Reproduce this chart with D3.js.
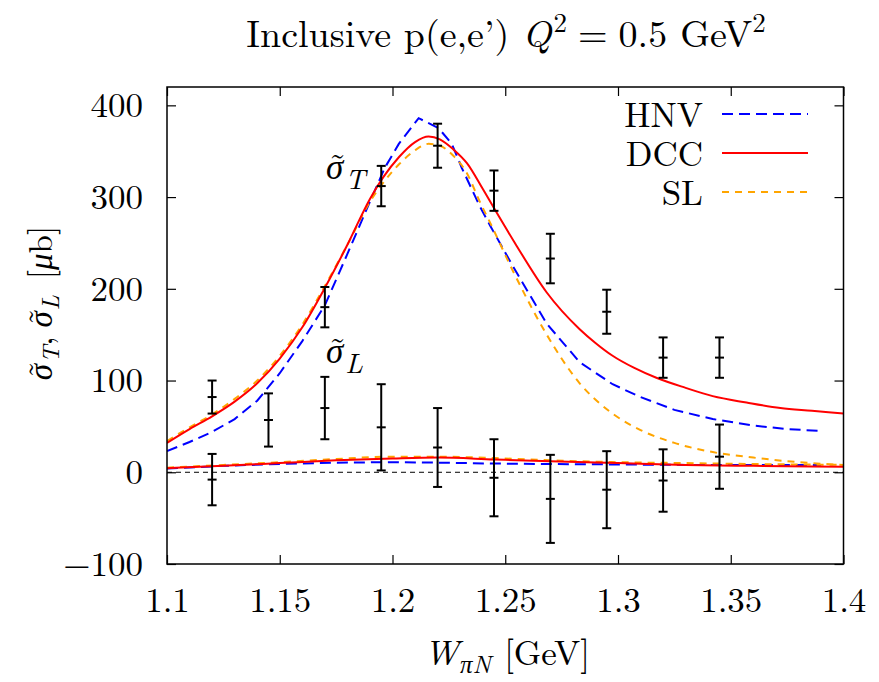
<!DOCTYPE html>
<html>
<head>
<meta charset="utf-8">
<script src="https://cdn.jsdelivr.net/npm/d3@7"></script>
</head>
<body style="margin:0;background:#fff">
<div id="chart-area"></div>
<script>
const margin = {top: 87, right: 35, bottom: 118, left: 167};
const width = 879;
const height = 682;
const FONT = "'Latin Modern Roman', 'Liberation Serif', serif";
const GREEK = "'Liberation Serif', serif";

// data points [W, value, error]
const sigmaTPoints = [
	[1.12, 82, 18], [1.17, 180, 22], [1.195, 312, 22], [1.22, 356, 24], [1.245, 307, 22],
	[1.27, 233, 27], [1.295, 175, 24], [1.32, 125, 22], [1.345, 125, 22]
];
const sigmaLPoints = [
	[1.12, -8, 28], [1.145, 57, 29], [1.17, 70, 34], [1.195, 49, 47], [1.22, 27, 43],
	[1.245, -6, 42], [1.27, -29, 48], [1.295, -19, 42], [1.32, -9, 34], [1.345, 17, 35]
];

// model curves, sigma_T
const hnvT = [
	[1.100, 23], [1.110, 33], [1.120, 44], [1.130, 58], [1.140, 78], [1.150, 108], [1.160, 143],
	[1.170, 182], [1.180, 238], [1.190, 295], [1.1966, 332], [1.2028, 358], [1.2116, 386],
	[1.2205, 375], [1.2263, 358], [1.2307, 332], [1.2387, 290], [1.2435, 268], [1.2533, 225],
	[1.2684, 162], [1.283, 120], [1.2976, 96], [1.310, 82], [1.325, 68], [1.342, 58],
	[1.360, 51], [1.375, 47], [1.3906, 45]
];
const dccT = [
	[1.100, 32], [1.110, 47], [1.120, 61], [1.130, 77], [1.140, 97], [1.150, 124], [1.160, 158],
	[1.170, 201], [1.180, 248], [1.190, 298], [1.196, 322], [1.203, 344], [1.210, 360],
	[1.216, 366], [1.221, 363], [1.227, 352], [1.233, 337], [1.240, 309], [1.245, 288],
	[1.255, 247], [1.2684, 196], [1.283, 156], [1.290, 141], [1.2976, 127], [1.307, 114],
	[1.317, 103], [1.330, 92], [1.342, 83], [1.357, 76], [1.372, 70], [1.386, 67], [1.400, 64]
];
const slT = [
	[1.100, 34], [1.110, 49], [1.120, 63], [1.130, 80], [1.140, 100], [1.150, 127], [1.160, 161],
	[1.170, 203], [1.180, 248], [1.190, 295], [1.196, 316], [1.203, 336], [1.210, 351],
	[1.216, 358], [1.221, 356], [1.227, 345], [1.233, 326], [1.2387, 295], [1.2435, 271],
	[1.2533, 220], [1.2684, 150], [1.283, 97], [1.2976, 64], [1.310, 46], [1.325, 32],
	[1.342, 22], [1.360, 16], [1.380, 11], [1.400, 8]
];

// model curves, sigma_L
const hnvL = [
	[1.10, 4], [1.125, 7], [1.15, 9], [1.175, 10.5], [1.20, 11], [1.22, 10.5], [1.245, 9.5],
	[1.27, 9], [1.30, 8.5], [1.33, 8], [1.36, 8], [1.39, 8]
];
const dccL = [
	[1.10, 4.5], [1.125, 7], [1.15, 10], [1.175, 13], [1.20, 15], [1.22, 16], [1.245, 14],
	[1.27, 12], [1.30, 10], [1.33, 8], [1.36, 7], [1.40, 6]
];
const slL = [
	[1.10, 5], [1.125, 8], [1.15, 11], [1.175, 14.5], [1.20, 17], [1.22, 17], [1.245, 15.5],
	[1.27, 13], [1.30, 11], [1.33, 10], [1.36, 9], [1.40, 8]
];

const xTicks = [1.1, 1.15, 1.2, 1.25, 1.3, 1.35, 1.4];
const yTicks = [-100, 0, 100, 200, 300, 400];
const legendNames = ["HNV", "DCC", "SL"];

var svg = d3.select("#chart-area").append("svg")
	.attr("width", width)
	.attr("height", height);

var x = d3.scaleLinear()
	.domain([1.1, 1.4])
	.range([margin.left, width - margin.right - 0.5]);

var y = d3.scaleLinear()
	.domain([-100, 420])
	.range([height - margin.bottom, margin.top]);

svg.append("clipPath").attr("id", "clip")
	.append("rect")
	.attr("x", margin.left).attr("y", margin.top)
	.attr("width", x.range()[1] - margin.left)
	.attr("height", height - margin.bottom - margin.top);

// zero line
svg.append("line")
	.attr("x1", x(1.1)).attr("x2", x(1.4))
	.attr("y1", y(0)).attr("y2", y(0))
	.attr("stroke", "black")
	.attr("stroke-width", 1)
	.attr("stroke-dasharray", "5,4");

var line = d3.line()
	.x(d => x(d[0]))
	.y(d => y(d[1]));
var smooth = d3.line()
	.x(d => x(d[0]))
	.y(d => y(d[1]))
	.curve(d3.curveMonotoneX);

const curves = [
	{data: hnvT, gen: line, color: "#0000ff", dash: "11,6"},
	{data: hnvL, gen: line, color: "#0000ff", dash: "11,6"},
	{data: slT, gen: smooth, color: "#ffa500", dash: "7,6"},
	{data: slL, gen: smooth, color: "#ffa500", dash: "7,6"},
	{data: dccT, gen: smooth, color: "#ff0000", dash: null},
	{data: dccL, gen: smooth, color: "#ff0000", dash: null}
];

var g = svg.append("g").attr("clip-path", "url(#clip)");

curves.forEach(c => {
	g.append("path")
		.datum(c.data)
		.attr("fill", "none")
		.attr("stroke", c.color)
		.attr("stroke-width", 2)
		.attr("stroke-dasharray", c.dash)
		.attr("d", c.gen);
});

// error bars
function drawErrors(points) {
	var bars = svg.append("g")
		.attr("stroke", "black")
		.attr("stroke-width", 2)
		.selectAll("g")
		.data(points)
		.enter().append("g");
	bars.append("line")
		.attr("x1", d => x(d[0])).attr("x2", d => x(d[0]))
		.attr("y1", d => y(d[1] - d[2])).attr("y2", d => y(d[1] + d[2]));
	[-1, 0, 1].forEach(s => {
		bars.append("line")
			.attr("x1", d => x(d[0]) - 4.5).attr("x2", d => x(d[0]) + 4.5)
			.attr("y1", d => y(d[1] + s * d[2])).attr("y2", d => y(d[1] + s * d[2]));
	});
}
drawErrors(sigmaTPoints);
drawErrors(sigmaLPoints);

// frame and ticks
var x0 = x.range()[0], x1 = x.range()[1], yb = y(-100), yt = margin.top;
svg.append("rect")
	.attr("x", x0).attr("y", yt)
	.attr("width", x1 - x0).attr("height", yb - yt)
	.attr("fill", "none")
	.attr("stroke", "black")
	.attr("stroke-width", 1.5);

svg.append("g")
	.attr("transform", `translate(0,${yb})`)
	.call(d3.axisBottom(x).tickValues(xTicks).tickSize(-9).tickPadding(23).tickFormat(d3.format("")))
	.call(a => a.select(".domain").remove());
svg.append("g")
	.attr("transform", `translate(0,${yt})`)
	.call(d3.axisTop(x).tickValues(xTicks).tickSize(-9).tickFormat(""))
	.call(a => a.select(".domain").remove());
svg.append("g")
	.attr("transform", `translate(${x0},0)`)
	.call(d3.axisLeft(y).tickValues(yTicks).tickSize(-9).tickPadding(24).tickFormat(d => d < 0 ? "\u2212" + Math.abs(d) : d))
	.call(a => a.select(".domain").remove());
svg.append("g")
	.attr("transform", `translate(${x1},0)`)
	.call(d3.axisRight(y).tickValues(yTicks).tickSize(-9).tickFormat(""))
	.call(a => a.select(".domain").remove());

svg.selectAll(".tick line").attr("stroke", "black").attr("stroke-width", 1.2);
svg.selectAll(".tick text")
	.style("font-family", FONT)
	.style("font-size", "35px")
	.attr("fill", "black");

// lays out a run of pieces left to right, returns its width
function mathRun(parent, px, py, pieces, base) {
	base = base || 35;
	var cx = px;
	pieces.forEach(p => {
		var size = p.size || base;
		var t = parent.append("text")
			.attr("x", cx).attr("y", py + (p.dy || 0))
			.style("font-family", p.greek ? GREEK : FONT)
			.style("font-size", size + "px")
			.style("font-style", p.italic ? "italic" : "normal")
			.attr("fill", "black")
			.text(p.t);
		var w = t.node().getComputedTextLength();
		if (p.tilde) {
			// accent in the same text element, pulled back over the glyph
			var acc = t.append("tspan")
				.attr("dy", -size * 0.03)
				.style("font-family", FONT)
				.style("font-style", "normal")
				.text("\u02dc");
			var aw = t.node().getComputedTextLength() - w;
			acc.attr("dx", -(w / 2 + aw / 2) + size * 0.08);
		}
		cx += w + (p.gap || 0);
	});
	return cx - px;
}

// title
var tg = svg.append("g");
var tw = mathRun(tg, 0, 47, [
	{t: "Inclusive p(e,e\u2019)", gap: 13},
	{t: "Q", italic: true, gap: 2},
	{t: "2", size: 27, dy: -15, gap: 11},
	{t: "=", gap: 11},
	{t: "0.5", gap: 13},
	{t: "GeV"},
	{t: "2", size: 27, dy: -15}
], 38);
tg.attr("transform", `translate(${506 - tw / 2},0)`);

// x label
var xg = svg.append("g");
var xw = mathRun(xg, 0, 665, [
	{t: "W", italic: true, gap: 1},
	{t: "π", greek: true, italic: true, size: 25, dy: 8},
	{t: "N", italic: true, size: 25, dy: 8, gap: 13},
	{t: "[GeV]"}
]);
xg.attr("transform", `translate(${507 - xw / 2},0)`);

// y label
var yg = svg.append("g");
var yw = mathRun(yg, 0, 0, [
	{t: "σ", greek: true, italic: true, tilde: true, gap: 1},
	{t: "T", italic: true, size: 24, dy: 7},
	{t: ",", gap: 9},
	{t: "σ", greek: true, italic: true, tilde: true, gap: 1},
	{t: "L", italic: true, size: 24, dy: 7, gap: 16},
	{t: "["},
	{t: "μ", greek: true, italic: true},
	{t: "b]"}
], 33);
yg.attr("transform", `translate(52,${303 + yw / 2}) rotate(-90)`);

// curve labels
mathRun(svg, x(1.1705), y(320), [
	{t: "σ", greek: true, italic: true, tilde: true, gap: 2},
	{t: "T", italic: true, size: 28, dy: 10}
]);
mathRun(svg, x(1.1705), y(119), [
	{t: "σ", greek: true, italic: true, tilde: true, gap: 2},
	{t: "L", italic: true, size: 28, dy: 10}
]);

// legend
const legendColors = ["#0000ff", "#ff0000", "#ffa500"];
const legendDash = ["11,6", null, "7,6"];
legendNames.forEach((n, i) => {
	var ly = 114 + i * 39;
	svg.append("text")
		.attr("x", 703).attr("y", ly + 13)
		.attr("text-anchor", "end")
		.style("font-family", FONT)
		.style("font-size", "35px")
		.attr("fill", "black")
		.text(n);
	svg.append("line")
		.attr("x1", 722).attr("x2", 808)
		.attr("y1", ly).attr("y2", ly)
		.attr("stroke", legendColors[i])
		.attr("stroke-width", 2)
		.attr("stroke-dasharray", legendDash[i]);
});
</script>
</body>
</html>
